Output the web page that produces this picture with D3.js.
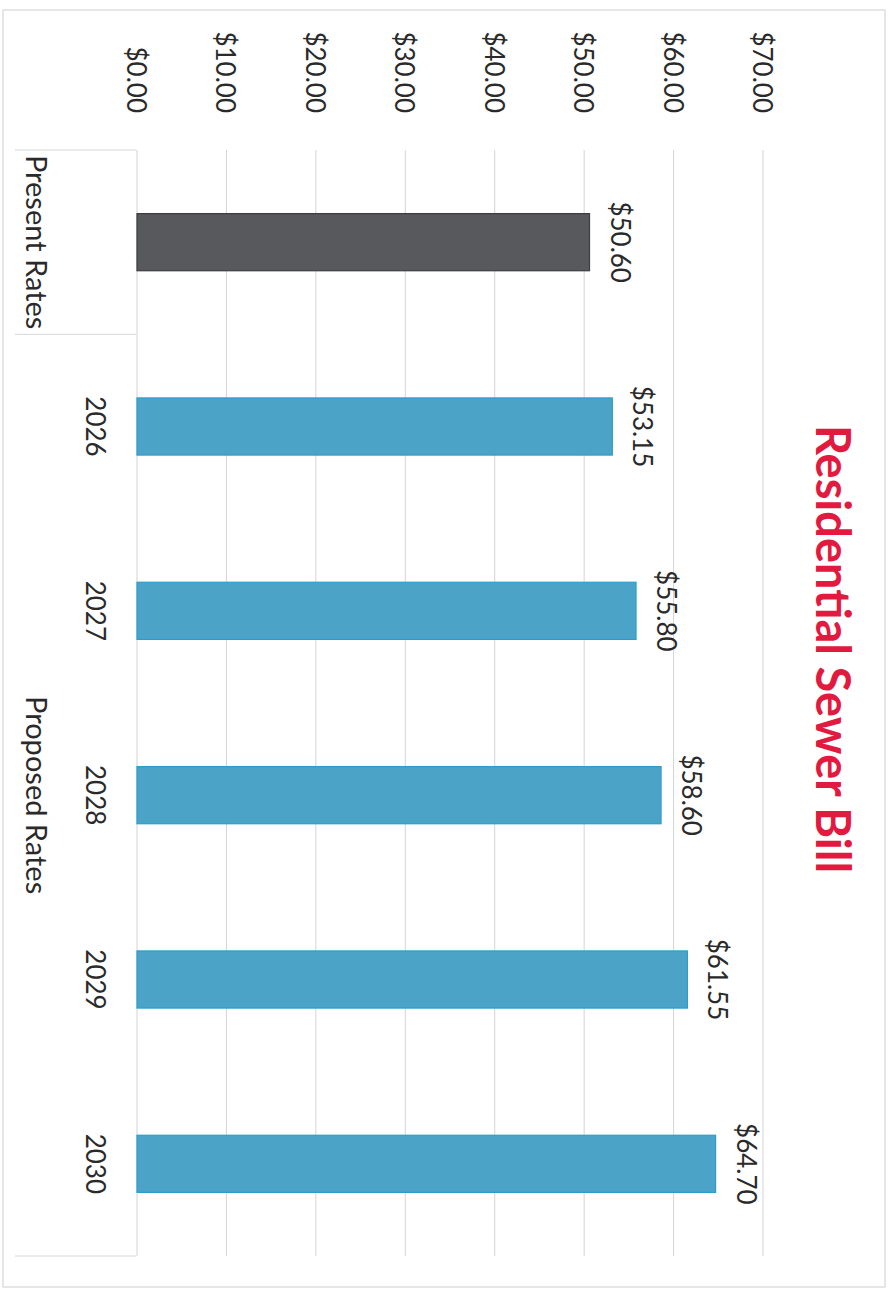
<!DOCTYPE html>
<html>
<head>
<meta charset="utf-8">
<script src="https://cdn.jsdelivr.net/npm/d3@7"></script>
<style>
  html, body { margin: 0; padding: 0; background: #ffffff; }
  svg { display: block; }
  text { font-family: "Lato", "Open Sans", sans-serif; }
</style>
</head>
<body>
<script>
// ---- Data ----
const categories = ["Present", "2026", "2027", "2028", "2029", "2030"];
const categoryLabels = ["", "2026", "2027", "2028", "2029", "2030"];
const groupOf = ["Present Rates", "Proposed Rates", "Proposed Rates", "Proposed Rates", "Proposed Rates", "Proposed Rates"];
const values = [50.60, 53.15, 55.80, 58.60, 61.55, 64.70];
const tickValues = [0, 10, 20, 30, 40, 50, 60, 70];
const title = "Residential Sewer Bill";

// ---- Layout (chart drawn upright, then rotated 90deg clockwise) ----
const W = 891, H = 1290;
const svg = d3.select("body").append("svg").attr("width", W).attr("height", H);
svg.append("rect").attr("width", W).attr("height", H).attr("fill", "#ffffff");

const g = svg.append("g").attr("transform", `translate(${W},0) rotate(90)`);

// outer border
g.append("rect")
  .attr("x", 10).attr("y", 6).attr("width", 1277).attr("height", 882)
  .attr("fill", "none").attr("stroke", "#d6d6d6").attr("stroke-width", 1.2);

const x = d3.scaleBand().domain(categories).range([150, 1256])
  .paddingInner(0.69).paddingOuter(0.345);
const y = d3.scaleLinear().domain([0, 70]).range([754, 128]);

const fmt = d3.format("$.2f");

// gridlines
g.append("g").selectAll("line").data(tickValues).join("line")
  .attr("x1", 150).attr("x2", 1256)
  .attr("y1", d => y(d)).attr("y2", d => y(d))
  .attr("stroke", "#d3d3da").attr("stroke-width", 1);

// value tick labels
g.append("g").selectAll("text").data(tickValues).join("text")
  .attr("x", 113).attr("y", d => y(d) + 10)
  .attr("text-anchor", "end")
  .attr("font-size", 26).attr("fill", "#2a2a2a")
  .text(d => fmt(d));

// bars
const colors = categories.map((c, i) => groupOf[i] === "Present Rates" ? "#58595c" : "#4ca3c8");
const strokes = categories.map((c, i) => groupOf[i] === "Present Rates" ? "#3c3d40" : "#2a9dcc");
g.append("g").selectAll("rect").data(values).join("rect")
  .attr("x", (d, i) => x(categories[i]))
  .attr("width", x.bandwidth())
  .attr("y", d => y(d))
  .attr("height", d => y(0) - y(d))
  .attr("fill", (d, i) => colors[i])
  .attr("stroke", (d, i) => strokes[i]).attr("stroke-width", 1.2);

// data labels
g.append("g").selectAll("text").data(values).join("text")
  .attr("x", (d, i) => x(categories[i]) + x.bandwidth() / 2)
  .attr("y", d => y(d) - 21)
  .attr("text-anchor", "middle")
  .attr("font-size", 26).attr("fill", "#2a2a2a")
  .text(d => fmt(d));

// inner category labels
g.append("g").selectAll("text").data(categoryLabels).join("text")
  .attr("x", (d, i) => x(categories[i]) + x.bandwidth() / 2)
  .attr("y", 805)
  .attr("text-anchor", "middle")
  .attr("font-size", 26).attr("fill", "#2a2a2a")
  .text(d => d);

// group labels and dividers
const step = x.step();
const start0 = x(categories[0]) - x.paddingOuter() * step;
const groupNames = Array.from(new Set(groupOf));
const groups = groupNames.map(name => {
  const idx = groupOf.map((gname, i) => gname === name ? i : -1).filter(i => i >= 0);
  return { name, a: start0 + idx[0] * step, b: start0 + (idx[idx.length - 1] + 1) * step };
});
const bounds = Array.from(new Set(groups.flatMap(gr => [gr.a, gr.b])));
g.append("g").selectAll("line").data(bounds).join("line")
  .attr("x1", d => d).attr("x2", d => d)
  .attr("y1", 755).attr("y2", 876)
  .attr("stroke", "#d6d6d6").attr("stroke-width", 1);

g.append("g").selectAll("text").data(groups).join("text")
  .attr("x", d => (d.a + d.b) / 2)
  .attr("y", 865)
  .attr("text-anchor", "middle")
  .attr("font-size", 29).attr("fill", "#2a2a2a")
  .text(d => d.name);

// title
g.append("text")
  .attr("x", 649).attr("y", 75)
  .attr("text-anchor", "middle")
  .attr("font-size", 47).attr("font-weight", "bold")
  .attr("fill", "#e21a3f")
  .text(title);
</script>
</body>
</html>
